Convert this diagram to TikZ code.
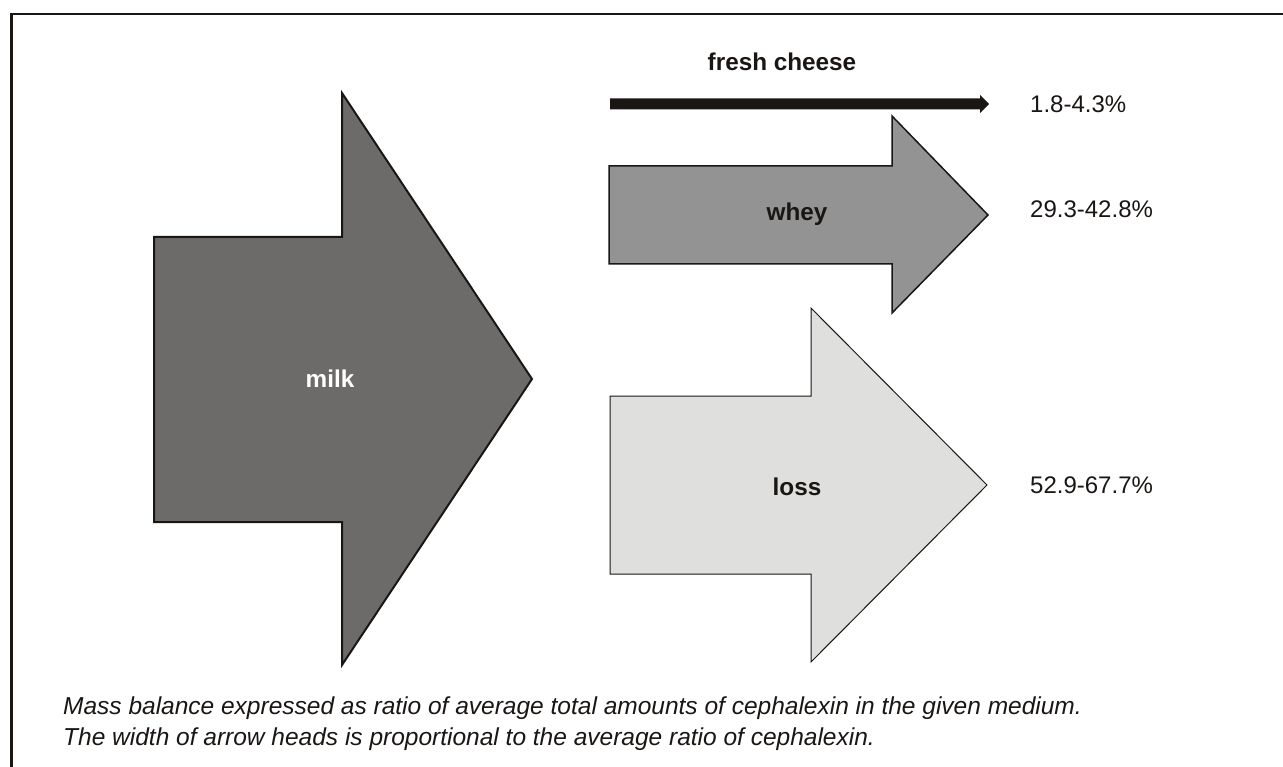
\documentclass[tikz,border=0pt]{standalone}
\usepackage{fontspec}
\setmainfont{Liberation Sans}
\definecolor{ink}{HTML}{1A1614}
\definecolor{milkfill}{HTML}{6D6B69}
\definecolor{wheyfill}{HTML}{939393}
\definecolor{lossfill}{HTML}{DFDFDE}
\begin{document}
\begin{tikzpicture}[x=1pt,y=-1pt,
  every node/.style={inner sep=0pt, text=ink, font=\fontsize{24}{28}\selectfont},
  flow/.style={draw=ink, line join=miter},
  bflabel/.style={font=\fontsize{24.3}{28}\selectfont\bfseries},
  pct/.style={anchor=west},
  caption/.style={anchor=west, font=\fontsize{24.5}{28}\selectfont\itshape}]
\useasboundingbox (0,0) rectangle (1283,767);
% frame
\draw[ink, line width=2.2pt] (1283,14) -- (11.5,14) -- (11.5,767);
% milk arrow
\draw[flow, fill=milkfill, line width=2pt]
  (154,237) -- (342,237) -- (342,93) -- (532,379) -- (342,665) -- (342,522) -- (154,522) -- cycle;
\node[bflabel, text=white] (milk) at (330,379) {milk};
% fresh cheese arrow
\fill[ink] (610,98.5) -- (980,98.5) -- (980,95) -- (989,104) -- (980,113) -- (980,109.5) -- (610,109.5) -- cycle;
\node[bflabel] (cheese) at (782,62) {fresh cheese};
\node[pct] (p1) at (1030,104) {1.8-4.3\%};
% whey arrow
\draw[flow, fill=wheyfill, line width=1.5pt]
  (609,166) -- (892,166) -- (892,116) -- (988,215) -- (892,313) -- (892,264) -- (609,264) -- cycle;
\node[bflabel] (whey) at (797,214) {whey};
\node[pct] (p2) at (1030,209) {29.3-42.8\%};
% loss arrow
\draw[flow, fill=lossfill, line width=1pt]
  (610,396) -- (811,396) -- (811,308) -- (987,485) -- (811,662) -- (811,574) -- (610,574) -- cycle;
\node[bflabel] (loss) at (797,487) {loss};
\node[pct] (p3) at (1030,485) {52.9-67.7\%};
% caption
\node[caption] (cap1) at (63,708) {Mass balance expressed as ratio of average total amounts of cephalexin in the given medium.};
\node[caption] (cap2) at (63,739) {The width of arrow heads is proportional to the average ratio of cephalexin.};
\end{tikzpicture}
\end{document}
